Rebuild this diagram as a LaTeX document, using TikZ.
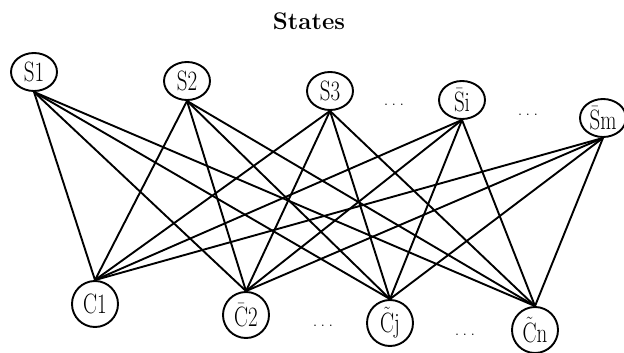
\documentclass[tikz,border=0pt]{standalone}
\usepackage{fontspec}
\usetikzlibrary{shapes.geometric}
\newcommand{\lbl}[1]{\scalebox{0.75}[1]{#1}}
\newcommand{\mydots}{.\hspace{3.5pt}.\hspace{3.5pt}.}
\begin{document}
\begin{tikzpicture}[x=1pt,y=-1pt,
  st/.style={ellipse,draw,line width=1.9pt,minimum width=46pt,minimum height=38pt,inner sep=0pt,font=\fontsize{28}{28}\selectfont},
  ct/.style={circle,draw,line width=1.9pt,minimum size=46pt,inner sep=0pt,font=\fontsize{28}{28}\selectfont},
  edge/.style={line width=1.9pt},
  dots/.style={font=\fontsize{18}{18}\selectfont}]
\useasboundingbox (0,0) rectangle (624,353);
\node[font=\fontsize{24}{24}\selectfont\bfseries] (title) at (309,21) {States};
\node[st] (s1) at (34,72) {\lbl{S1}};
\node[st] (s2) at (187,81) {\lbl{S2}};
\node[st] (s3) at (330,91) {\lbl{S3}};
\node[st] (si) at (462,100) {\lbl{$\bar{\mathrm{S}}$i}};
\node[st] (sm) at (603,118) {\lbl{$\bar{\mathrm{S}}$m}};
\node[ct] (c1) at (95,304) {\lbl{C1}};
\node[ct] (c2) at (246,315) {\lbl{$\bar{\mathrm{C}}$2}};
\node[ct] (cj) at (390,323) {\lbl{$\tilde{\mathrm{C}}$j}};
\node[ct] (cn) at (535,330) {\lbl{$\tilde{\mathrm{C}}$n}};
\node[dots] (d1) at (394,105) {\mydots};
\node[dots] (d2) at (528,115) {\mydots};
\node[dots] (d3) at (323,326) {\mydots};
\node[dots] (d4) at (465,335) {\mydots};
\foreach \s in {s1,s2,s3,si,sm}
  \foreach \c in {c1,c2,cj,cn}
    \draw[edge] (\s.south) -- (\c.north);
\end{tikzpicture}
\end{document}
